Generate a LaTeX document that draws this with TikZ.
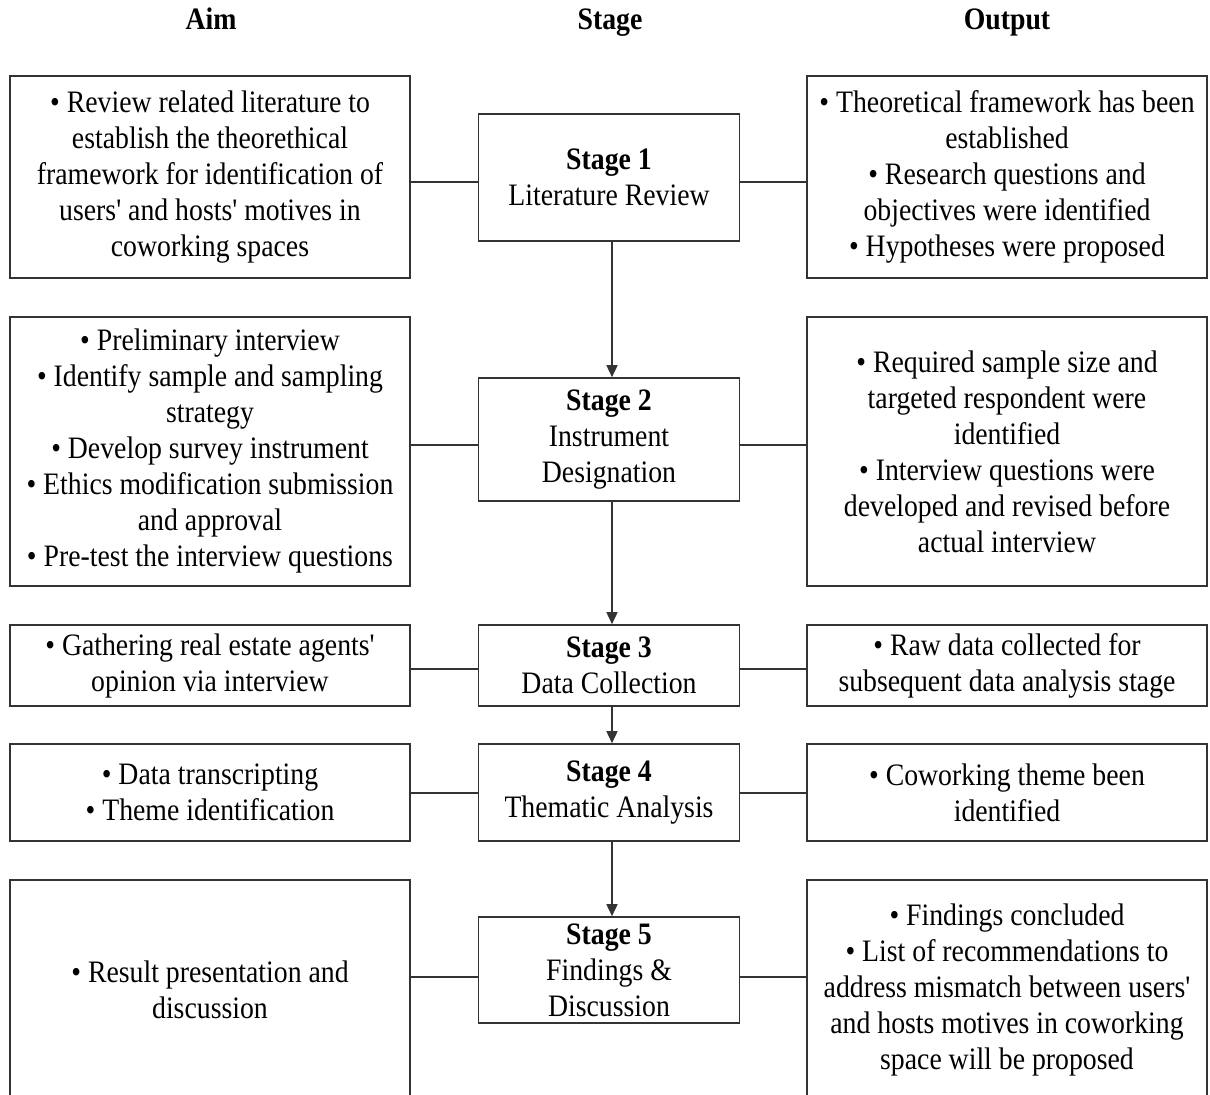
\documentclass[tikz,border=0pt]{standalone}
\usepackage{fontspec}
\setmainfont{Liberation Serif}[Ligatures=TeXOff, FakeStretch=0.89]
\usetikzlibrary{arrows.meta}

\tikzset{
  box/.style={draw=black!80, line width=0.8pt, align=flush center, inner sep=0pt,
    font=\fontsize{15.6}{18}\selectfont},
  sidebox/.style={box, text width=200pt},
  stagebox/.style={box, text width=130.5pt},
  head/.style={anchor=base, font=\fontsize{15.6}{18}\selectfont\bfseries},
  link/.style={draw=black!80, line width=0.8pt},
  flow/.style={link, -{Triangle[length=6pt, width=5.5pt]}},
}

\begin{document}
\begin{tikzpicture}[x=0.5pt, y=-0.5pt]
\useasboundingbox (0,0) rectangle (1210,1095);
\clip (0,0) rectangle (1210,1095);

% column heads
\node[head] (haim) at (211,30) {Aim};
\node[head] (hstage) at (610,30) {Stage};
\node[head] (hout) at (1007,30) {Output};

% stage 1
\node[sidebox, minimum height=101pt] (aim1) at (210,177) {\textbullet\ Review related literature to\\establish the theorethical\\framework for identification of\\users' and hosts' motives in\\coworking spaces};
\node[stagebox, minimum height=63.5pt] (st1) at (609,177.5) {\textbf{Stage 1}\\Literature Review};
\node[sidebox, minimum height=101pt] (out1) at (1007,177) {\textbullet\ Theoretical framework has been\\established\\\textbullet\ Research questions and\\objectives were identified\\\textbullet\ Hypotheses were proposed};

% stage 2
\node[sidebox, minimum height=134.5pt] (aim2) at (210,451.5) {\textbullet\ Preliminary interview\\\textbullet\ Identify sample and sampling\\strategy\\\textbullet\ Develop survey instrument\\\textbullet\ Ethics modification submission\\and approval\\\textbullet\ Pre-test the interview questions};
\node[stagebox, minimum height=61.5pt] (st2) at (609,439.5) {\textbf{Stage 2}\\Instrument\\Designation};
\node[sidebox, minimum height=134.5pt] (out2) at (1007,451.5) {\textbullet\ Required sample size and\\targeted respondent were\\identified\\\textbullet\ Interview questions were\\developed and revised before\\actual interview};

% stage 3
\node[sidebox, minimum height=40.5pt] (aim3) at (210,665.5) {\textbullet\ Gathering real estate agents'\\opinion via interview};
\node[stagebox, minimum height=40.5pt] (st3) at (609,665.5) {\textbf{Stage 3}\\Data Collection};
\node[sidebox, minimum height=40.5pt] (out3) at (1007,665.5) {\textbullet\ Raw data collected for\\subsequent data analysis stage};

% stage 4
\node[sidebox, minimum height=48.5pt] (aim4) at (210,792.5) {\textbullet\ Data transcripting\\\textbullet\ Theme identification};
\node[stagebox, minimum height=48.5pt] (st4) at (609,792.5) {\textbf{Stage 4}\\Thematic Analysis};
\node[sidebox, minimum height=48.5pt] (out4) at (1007,792.5) {\textbullet\ Coworking theme been\\identified};

% stage 5
\node[sidebox, minimum height=110pt] (aim5) at (210,990) {\textbullet\ Result presentation and\\discussion};
\node[stagebox, minimum height=53pt] (st5) at (609,970) {\textbf{Stage 5}\\Findings \&\\Discussion};
\node[sidebox, minimum height=110pt] (out5) at (1007,990) {\textbullet\ Findings concluded\\\textbullet\ List of recommendations to\\address mismatch between users'\\and hosts motives in coworking\\space will be proposed};

% connectors
\foreach \i/\ly in {1/182, 2/445, 3/669, 4/793, 5/977} {
  \coordinate (lk\i) at (0,\ly);
  \draw[link] (aim\i.east |- lk\i) -- (st\i.west |- lk\i);
  \draw[link] (st\i.east |- lk\i) -- (out\i.west |- lk\i);
}
\foreach \i [evaluate=\i as \j using int(\i+1)] in {1,...,4} {
  \draw[flow] ([xshift=1.5pt]st\i.south) -- ([xshift=1.5pt]st\j.north);
}
\end{tikzpicture}
\end{document}
